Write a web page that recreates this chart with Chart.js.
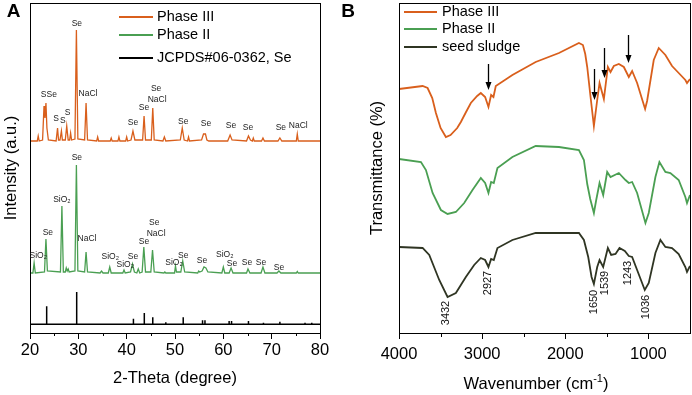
<!DOCTYPE html>
<html>
<head>
<meta charset="utf-8">
<script src="https://cdn.jsdelivr.net/npm/chart.js@4.4.1/dist/chart.umd.min.js"></script>
<style>
  body { margin: 0; background: #fff; }
  #wrap { position: relative; width: 692px; height: 395px; }
  #chartA { position: absolute; left: 0; top: 0; }
  #chartB { position: absolute; left: 336px; top: 0; }
</style>
</head>
<body>
<div id="wrap">
  <canvas id="chartA" width="336" height="395"></canvas>
  <canvas id="chartB" width="356" height="395"></canvas>
</div>
<script>
// ---- panel A: XRD (2-theta vs stacked intensity, a.u.) ----
const xTicksA = [20, 30, 40, 50, 60, 70, 80];
const xMinorA = [25, 35, 45, 55, 65, 75];

const phase3Theta = [20, 21.5, 21.7, 21.9, 22.6, 22.9, 23.1, 23.3, 23.5, 23.8, 25.4, 25.7, 25.9, 26.2, 26.5, 26.7,
  27.3, 27.6, 27.9, 28.2, 28.4, 28.6, 29.3, 29.6, 29.9, 31.3, 31.6, 31.9, 33.8, 34.0, 34.2, 36.6, 36.8, 37.0,
  38.2, 38.4, 38.6, 39.8, 40.0, 40.2, 40.9, 41.3, 41.7, 43.3, 43.6, 43.9, 45.1, 45.4, 45.7, 47.5, 47.8, 48.1,
  51.1, 51.5, 51.9, 52.6, 52.8, 53.0, 55.5, 55.9, 56.3, 56.6, 57.0, 60.9, 61.4, 61.8, 64.8, 65.2, 65.6, 66.0,
  66.2, 66.4, 67.9, 68.2, 68.5, 71.3, 71.7, 72.1, 75.1, 75.3, 75.5, 80];
const phase3Int = [192, 192, 197, 192, 193, 227, 215, 230, 205, 193, 192, 205, 193, 193, 202, 193,
  193, 207, 193, 193, 200, 193, 194, 303, 194, 193, 230, 193, 192, 196, 192, 192, 195, 192,
  192, 196, 192, 192, 196, 192, 193, 202, 193, 193, 217, 193, 193, 225, 193, 192, 196, 192,
  193, 205, 193, 192, 196, 192, 193, 199, 199, 193, 192, 192, 198, 193, 192, 197, 193, 192,
  195, 192, 192, 195, 192, 192, 195, 192, 192, 199, 192, 192];

const phase2Theta = [20, 20.6, 20.85, 21.1, 23.0, 23.3, 23.6, 26.3, 26.6, 26.9, 27.3, 27.5, 27.7, 27.9, 28.1,
  29.3, 29.6, 29.9, 31.3, 31.6, 31.9, 34.5, 34.8, 35.1, 36.2, 36.5, 36.8, 39.2, 39.45, 39.7, 40.8, 41.2, 41.6,
  42.1, 42.4, 42.7, 43.2, 43.55, 43.9, 45.0, 45.35, 45.7, 47.7, 47.9, 48.1, 49.9, 50.1, 50.3, 51.2, 51.6, 52.0,
  54.7, 54.9, 55.1, 55.6, 56.0, 56.4, 56.8, 59.7, 60.0, 60.3, 61.2, 61.6, 62.0, 64.8, 65.1, 65.5, 67.8, 68.2,
  68.6, 71.1, 71.5, 71.9, 75.1, 75.3, 75.5, 80];
const phase2Int = [60, 60, 70, 60, 61, 94, 62, 61, 127, 61, 61, 65, 62, 64, 61,
  62, 168, 62, 61, 81, 61, 60, 62, 60, 60, 66, 60, 60, 63, 60, 61, 69, 61,
  60, 64, 60, 61, 86, 61, 61, 83, 61, 60, 61, 60, 60, 67, 61, 61, 72, 61,
  60, 62, 61, 62, 66, 65, 61, 60, 66, 60, 60, 65, 60, 60, 64, 60, 60, 66,
  60, 60, 62, 60, 60, 61.5, 60, 60];

const jcpdsBase = 8.7;
const jcpdsTheta = [23.45, 29.66, 41.4, 43.65, 45.4, 48.1, 51.7, 55.7, 56.2, 61.2, 61.7, 65.2, 68.3, 71.7, 76.9, 78.3];
const jcpdsInt = [26.7, 41, 14.3, 20, 15.7, 10.7, 15.7, 12.7, 12.7, 12, 12, 12, 10.3, 11.3, 10.3, 10.3];

const phase3Labels = ['SSe', 'S', 'S', 'S', 'Se', 'NaCl', 'Se', 'Se', 'Se', 'NaCl', 'Se', 'Se', 'Se', 'Se', 'Se', 'NaCl'];
const phase3LabelTheta = [23.9, 25.4, 26.8, 27.8, 29.7, 32.0, 41.3, 43.6, 46.1, 46.3, 51.7, 56.4, 61.6, 65.1, 71.9, 75.5];
const phase3LabelY = [238, 214, 212, 220, 309, 239, 210, 225, 244, 233, 211, 209, 207, 205, 205, 207];

const phase2Labels = ['SiO₂', 'Se', 'SiO₂', 'Se', 'NaCl', 'SiO₂', 'SiO₂', 'Se', 'Se', 'Se', 'NaCl', 'SiO₂', 'Se', 'Se', 'SiO₂', 'Se', 'Se', 'Se', 'Se'];
const phase2LabelTheta = [21.7, 23.7, 26.6, 29.7, 31.8, 36.6, 39.7, 41.3, 43.6, 45.7, 46.1, 49.8, 51.7, 55.6, 60.3, 61.8, 64.9, 67.8, 71.5];
const phase2LabelY = [77, 100, 133, 175, 94, 76, 68, 76, 91, 110, 99, 70, 77, 72, 78, 69, 70, 70, 65];

// ---- panel B: FTIR ----
const xTicksB = [1000, 2000, 3000, 4000];
const xMinorB = [1500, 2500, 3500];

const ftir3Wn = [4000, 3716, 3656, 3600, 3556, 3500, 3436, 3380, 3300, 3256, 3200, 3136, 3060, 3016, 2964, 2924, 2892,
  2864, 2836, 2636, 2356, 2076, 1836, 1788, 1760, 1736, 1696, 1656, 1616, 1588, 1536, 1488, 1456, 1416, 1356, 1296,
  1236, 1196, 1136, 1040, 1016, 936, 876, 796, 716, 636, 556, 536, 500];
const ftir3T = [245, 248, 246, 236, 221, 206, 197, 199, 206, 212, 221, 231, 238, 241, 237, 227, 239,
  237, 248, 259, 272, 281, 291, 289, 280, 267, 237, 208, 234, 251, 235, 267, 262, 268, 270, 267,
  257, 263, 251, 225, 233, 274, 286, 279, 268, 261, 254, 251, 255];

const ftir2Wn = [4000, 3736, 3676, 3596, 3496, 3416, 3316, 3216, 3116, 3016, 2964, 2924, 2892, 2860, 2816, 2636,
  2356, 2076, 1836, 1776, 1736, 1700, 1656, 1628, 1588, 1544, 1496, 1456, 1356, 1276, 1236, 1196, 1136, 1036,
  996, 916, 868, 796, 736, 636, 556, 536, 500];
const ftir2T = [175, 172, 164, 141, 124, 120, 122, 131, 144, 156, 151, 141, 152, 151, 166, 177,
  188, 187, 184, 174, 150, 135, 121, 134, 151, 139, 162, 157, 161, 154, 151, 152, 141, 111,
  121, 157, 172, 162, 161, 154, 137, 131, 139];

const sludgeWn = [4000, 3716, 3636, 3516, 3416, 3316, 3196, 3096, 3016, 2964, 2924, 2892, 2860, 2816, 2636, 2356,
  2076, 1836, 1776, 1724, 1684, 1656, 1616, 1588, 1544, 1488, 1448, 1396, 1348, 1284, 1236, 1196, 1136, 1044,
  996, 916, 856, 796, 716, 636, 556, 536, 500];
const sludgeT = [87, 86, 79, 54, 37, 41, 57, 69, 76, 74, 67, 75, 74, 86, 94, 101,
  101, 101, 94, 77, 57, 50, 67, 74, 67, 86, 79, 80, 86, 83, 78, 77, 64, 44,
  51, 81, 94, 87, 86, 80, 67, 62, 68];

const bandLabels = ['3432', '2927', '1650', '1539', '1243', '1036'];
const bandLabelWn = [3436, 2929, 1661, 1528, 1250, 1033];
const bandLabelY = [21, 51, 32, 51, 61, 27];

const arrowWn = [2927, 1650, 1539, 1243];
const arrowTop = [270, 265, 286, 299];
const arrowBottom = [244, 234, 256, 271];

const ORANGE = '#D95F1C';
const GREEN = '#4A9F52';
const DARK = '#2F3523';
const FONT = "'Liberation Sans', Arial, sans-serif";

Chart.defaults.font.family = FONT;
Chart.defaults.color = '#000';

function toPoints(xs, ys) {
    return xs.map((x, i) => ({ x: x, y: ys[i] }));
}

function stickPoints(xs, hs, base, from, to) {
    let pts = [{ x: from, y: base }];
    xs.forEach((x, i) => {
        pts.push({ x: x, y: base }, { x: x, y: hs[i] }, { x: x, y: base });
    });
    pts.push({ x: to, y: base });
    return pts;
}

function line(points, color, width) {
    return { data: points, borderColor: color, borderWidth: width, pointRadius: 0, tension: 0, fill: false };
}

function text(ctx, str, x, y, font, align, baseline, color, rot) {
    ctx.save();
    ctx.translate(x, y);
    if (rot) ctx.rotate(rot);
    ctx.font = font;
    ctx.fillStyle = color || '#000';
    ctx.textAlign = align;
    ctx.textBaseline = baseline;
    ctx.fillText(str, 0, 0);
    ctx.restore();
}

function frameAndMinor(chart, minor, len) {
    const ctx = chart.ctx, a = chart.chartArea, xs = chart.scales.x;
    ctx.save();
    ctx.strokeStyle = '#000';
    ctx.lineWidth = 1;
    ctx.strokeRect(a.left + 0.5, a.top + 0.5, a.right - a.left, a.bottom - a.top);
    minor.forEach(v => {
        const px = Math.round(xs.getPixelForValue(v)) + 0.5;
        ctx.beginPath();
        ctx.moveTo(px, a.bottom);
        ctx.lineTo(px, a.bottom + len);
        ctx.stroke();
    });
    ctx.restore();
}

function drawKey(ctx, names, colors, lineFrom, lineTo, textX, rows) {
    for (let i = 0; i < names.length; i++) {
        ctx.save();
        ctx.strokeStyle = colors[i];
        ctx.lineWidth = 1.8;
        ctx.beginPath();
        ctx.moveTo(lineFrom, rows[i]);
        ctx.lineTo(lineTo, rows[i]);
        ctx.stroke();
        ctx.restore();
        text(ctx, names[i], textX, rows[i], '14.5px ' + FONT, 'left', 'middle');
    }
}

const panelA = {
    id: 'panelA',
    afterDraw(chart) {
        const ctx = chart.ctx, a = chart.chartArea, xs = chart.scales.x, ys = chart.scales.y;
        frameAndMinor(chart, xMinorA, 3);
        text(ctx, '2-Theta (degree)', (a.left + a.right) / 2, 383, '16.5px ' + FONT, 'center', 'alphabetic');
        text(ctx, 'Intensity (a.u.)', 11, (a.top + a.bottom) / 2, '16.5px ' + FONT, 'center', 'middle', '#000', -Math.PI / 2);
        text(ctx, 'A', 13.5, 12, 'bold 19px ' + FONT, 'center', 'middle');
        drawKey(ctx, ['Phase III', 'Phase II', 'JCPDS#06-0362, Se'], [ORANGE, GREEN, '#000'], 119, 153, 157, [17, 35, 58]);
        phase3Labels.forEach((s, i) => {
            text(ctx, s, xs.getPixelForValue(phase3LabelTheta[i]), ys.getPixelForValue(phase3LabelY[i]), '8.5px ' + FONT, 'center', 'middle', '#222');
        });
        phase2Labels.forEach((s, i) => {
            text(ctx, s, xs.getPixelForValue(phase2LabelTheta[i]), ys.getPixelForValue(phase2LabelY[i]), '8.5px ' + FONT, 'center', 'middle', '#222');
        });
    }
};

const panelB = {
    id: 'panelB',
    afterDraw(chart) {
        const ctx = chart.ctx, a = chart.chartArea, xs = chart.scales.x, ys = chart.scales.y;
        frameAndMinor(chart, xMinorB, 4);
        // x title, "-1" raised as a superscript
        ctx.save();
        ctx.font = '16.5px ' + FONT;
        const head = 'Wavenumber (cm', tail = ')', sup = '-1';
        const wHead = ctx.measureText(head).width, wTail = ctx.measureText(tail).width;
        ctx.font = '11px ' + FONT;
        const wSup = ctx.measureText(sup).width;
        ctx.restore();
        const start = 200 - (wHead + wSup + wTail) / 2;
        text(ctx, head, start, 389, '16.5px ' + FONT, 'left', 'alphabetic');
        text(ctx, sup, start + wHead, 382, '11px ' + FONT, 'left', 'alphabetic');
        text(ctx, tail, start + wHead + wSup, 389, '16.5px ' + FONT, 'left', 'alphabetic');
        text(ctx, 'Transmittance (%)', 41, (a.top + a.bottom) / 2, '16.5px ' + FONT, 'center', 'middle', '#000', -Math.PI / 2);
        text(ctx, 'B', 12, 12, 'bold 19px ' + FONT, 'center', 'middle');
        drawKey(ctx, ['Phase III', 'Phase II', 'seed sludge'], [ORANGE, GREEN, DARK], 68, 101, 106, [12, 29, 47]);
        bandLabels.forEach((s, i) => {
            text(ctx, s, xs.getPixelForValue(bandLabelWn[i]), ys.getPixelForValue(bandLabelY[i]), '11px ' + FONT, 'center', 'middle', '#111', -Math.PI / 2);
        });
        // arrows pointing at the marked bands
        ctx.save();
        ctx.strokeStyle = '#000';
        ctx.fillStyle = '#000';
        ctx.lineWidth = 1.3;
        arrowWn.forEach((w, i) => {
            const px = Math.round(xs.getPixelForValue(w)) + 0.5;
            const y0 = ys.getPixelForValue(arrowTop[i]), y1 = ys.getPixelForValue(arrowBottom[i]);
            ctx.beginPath();
            ctx.moveTo(px, y0);
            ctx.lineTo(px, y1 - 6);
            ctx.stroke();
            ctx.beginPath();
            ctx.moveTo(px - 3, y1 - 8);
            ctx.lineTo(px + 3, y1 - 8);
            ctx.lineTo(px, y1);
            ctx.closePath();
            ctx.fill();
        });
        ctx.restore();
    }
};

function baseScales(xOpts, yMin, yMax, yWidth, labelPad) {
    return {
        x: Object.assign({
            type: 'linear',
            afterFit: s => { s.height = 62; },
            grid: { display: true, drawOnChartArea: false, drawTicks: true, tickLength: 6, tickColor: '#000', tickWidth: 1 },
            border: { display: false },
            ticks: { color: '#000', font: { size: 16.5 }, padding: labelPad, maxRotation: 0, autoSkip: false, callback: v => String(v) }
        }, xOpts),
        y: {
            type: 'linear', min: yMin, max: yMax,
            afterFit: s => { s.width = yWidth; },
            grid: { display: false },
            border: { display: false },
            ticks: { display: false }
        }
    };
}

new Chart(document.getElementById('chartA').getContext('2d'), {
    type: 'line',
    data: {
        datasets: [
            line(toPoints(phase3Theta, phase3Int), ORANGE, 1.3),
            line(toPoints(phase2Theta, phase2Int), GREEN, 1.3),
            line(stickPoints(jcpdsTheta, jcpdsInt, jcpdsBase, xTicksA[0], xTicksA[xTicksA.length - 1]), '#000', 1.5)
        ]
    },
    options: {
        responsive: false,
        animation: false,
        events: [],
        layout: { padding: { left: 0, top: 3, right: 16, bottom: 0 } },
        plugins: { legend: { display: false }, tooltip: { enabled: false } },
        scales: baseScales({
            min: 20, max: 80,
            afterBuildTicks: s => { s.ticks = xTicksA.map(v => ({ value: v })); }
        }, 0, 330, 30, 2)
    },
    plugins: [panelA]
});

new Chart(document.getElementById('chartB').getContext('2d'), {
    type: 'line',
    data: {
        datasets: [
            line(toPoints(ftir3Wn, ftir3T), ORANGE, 1.8),
            line(toPoints(ftir2Wn, ftir2T), GREEN, 1.8),
            line(toPoints(sludgeWn, sludgeT), DARK, 1.8)
        ]
    },
    options: {
        responsive: false,
        animation: false,
        events: [],
        layout: { padding: { left: 0, top: 3, right: 2, bottom: 0 } },
        plugins: { legend: { display: false }, tooltip: { enabled: false } },
        scales: baseScales({
            min: 500, max: 4000, reverse: true,
            afterBuildTicks: s => { s.ticks = xTicksB.map(v => ({ value: v })); }
        }, 1, 331, 63, 6)
    },
    plugins: [panelB]
});
</script>
</body>
</html>
